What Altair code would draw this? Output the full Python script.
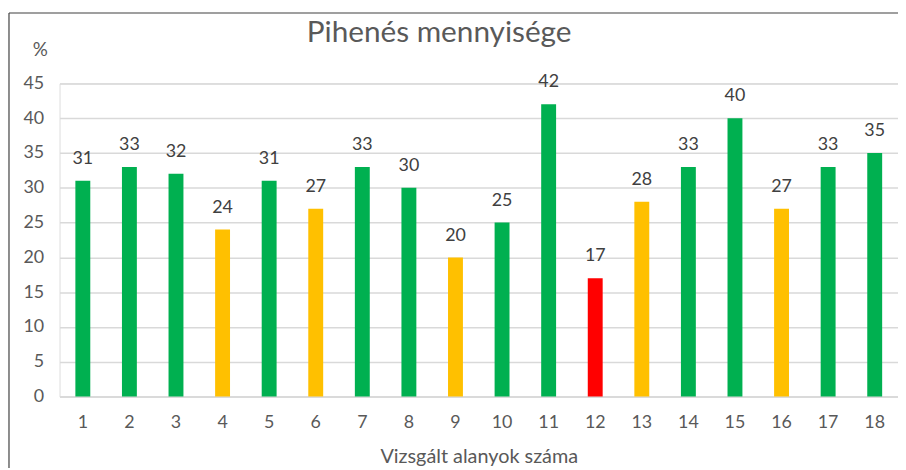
import altair as alt
import pandas as pd

subjects = [str(i) for i in range(1, 19)]
values = [31, 33, 32, 24, 31, 27, 33, 30, 20, 25, 42, 17, 28, 33, 40, 27, 33, 35]
levels = ["g", "g", "g", "o", "g", "o", "g", "g", "o", "g", "g", "r", "o", "g", "g", "o", "g", "g"]
palette = {"g": "#00B050", "o": "#FFC000", "r": "#FF0000"}
y_ticks = [0, 5, 10, 15, 20, 25, 30, 35, 40, 45]

df = pd.DataFrame({"alany": subjects, "ertek": values, "szin": [palette[l] for l in levels]})

FONT = "Lato"
TXT = "#595959"

x = alt.X("alany:N", sort=subjects,
          scale=alt.Scale(paddingInner=0.68, paddingOuter=0.34),
          axis=alt.Axis(title="Vizsgált alanyok száma", labelAngle=0, labelFontSize=18,
                        labelColor=TXT, labelFont=FONT, labelPadding=17, ticks=False,
                        domainColor="#D9D9D9", domainWidth=1.5,
                        titleFontSize=20, titleFont=FONT, titleColor=TXT,
                        titleFontWeight="normal", titlePadding=16))
y = alt.Y("ertek:Q", scale=alt.Scale(domain=[0, 45], nice=False, zero=True),
          axis=alt.Axis(title="%", values=y_ticks, labelFontSize=18,
                        labelColor=TXT, labelFont=FONT, labelPadding=16, ticks=False,
                        domain=False, gridColor="#D9D9D9", gridWidth=1.5, labelOverlap=False,
                        titleAngle=0, titleX=-20, titleY=-34, titleAlign="center",
                        titleBaseline="middle", titleFontSize=19, titleFont=FONT,
                        titleColor=TXT, titleFontWeight="normal"))

base = alt.Chart(df)
bars = base.mark_bar().encode(x=x, y=y, color=alt.Color("szin:N", scale=None))
labels = base.mark_text(baseline="bottom", dy=-13, fontSize=18, font=FONT, color="#404040").encode(
    x=x, y=y, text="ertek:Q")

one = pd.DataFrame({"t": ["Pihenés mennyisége"]})
title = alt.Chart(one).mark_text(fontSize=30, font=FONT, color=TXT, align="center",
                                 baseline="middle", clip=False).encode(
    x=alt.value(383), y=alt.value(-51), text="t:N")

frame_left = alt.Chart(one).mark_rule(color="#404040", strokeWidth=1.2, clip=False).encode(
    x=alt.value(-51), y=alt.value(-71), y2=alt.value(390))
frame_top = alt.Chart(one).mark_rule(color="#404040", strokeWidth=1.2, clip=False).encode(
    x=alt.value(-51), x2=alt.value(860), y=alt.value(-71))

chart = alt.layer(frame_left, frame_top, bars, labels, title).properties(
    width=846, height=316,
    padding={"left": 52, "top": 74, "right": 0, "bottom": 70},
    autosize=alt.AutoSizeParams(type="none"),
).configure_view(stroke=None).configure(background="white")

chart.save("out.html", embed_options={"renderer": "svg", "actions": False})
